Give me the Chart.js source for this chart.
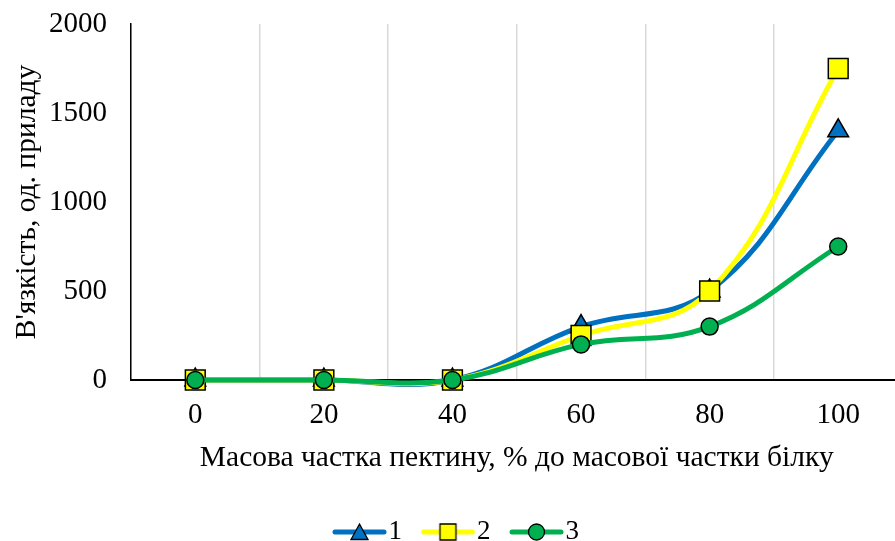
<!DOCTYPE html>
<html>
<head>
<meta charset="utf-8">
<script src="https://cdn.jsdelivr.net/npm/chart.js@4.4.1/dist/chart.umd.min.js"></script>
<style>
  html, body { margin: 0; padding: 0; background: #fff; overflow: hidden; }
  #wrap { width: 918px; height: 541px; }
  #c { width: 918px; height: 541px; display: block; }
</style>
</head>
<body>
<div id="wrap"><canvas id="c" width="918" height="541"></canvas></div>
<script>
const categories = ['0', '20', '40', '60', '80', '100'];
const series1 = [0, 0, 0, 300, 500, 1400];
const series2 = [0, 0, 0, 250, 500, 1750];
const series3 = [0, 0, 0, 200, 300, 750];
const seriesNames = ['1', '2', '3'];
const yTicks = [0, 500, 1000, 1500, 2000];
const xTitle = 'Масова частка пектину, % до масової частки білку';
const yTitle = "В'язкість, од. приладу";

const colors = ['#0070C0', '#FFFF00', '#00B050'];
const styles = ['triangle', 'rect', 'circle'];
const radii = [12, 14, 8.5];
const FONT = "'Times New Roman', 'Liberation Serif', serif";

function legendImage(i) {
  const c = document.createElement('canvas');
  c.width = 55; c.height = 24;
  const g = c.getContext('2d');
  g.strokeStyle = colors[i];
  g.lineWidth = 5;
  g.lineCap = 'round';
  g.beginPath(); g.moveTo(3, 12); g.lineTo(52, 12); g.stroke();
  g.fillStyle = colors[i];
  g.strokeStyle = '#000';
  g.lineWidth = 1.3;
  g.beginPath();
  if (styles[i] === 'triangle') {
    g.moveTo(27.5, 4); g.lineTo(36, 19.5); g.lineTo(19, 19.5); g.closePath();
  } else if (styles[i] === 'rect') {
    g.rect(19.5, 4, 16, 16);
  } else {
    g.arc(27.5, 12, 8, 0, Math.PI * 2);
  }
  g.fill(); g.stroke();
  return c;
}
const legendImgs = [0, 1, 2].map(legendImage);

const allSeries = [series1, series2, series3];
const datasets = allSeries.map((d, i) => ({
  label: seriesNames[i],
  data: d,
  borderColor: colors[i],
  backgroundColor: colors[i],
  borderWidth: 5,
  tension: 0.4,
  pointStyle: styles[i],
  pointRadius: radii[i],
  pointBackgroundColor: colors[i],
  pointBorderColor: '#000',
  pointBorderWidth: 1.5,
  clip: false,
  order: 3 - i
}));

const legendShift = {
  id: 'legendShift',
  afterLayout(chart) {
    if (chart.legend) { chart.legend.left += 2.5; chart.legend.right += 2.5; }
  }
};

new Chart(document.getElementById('c'), {
  type: 'line',
  data: { labels: categories, datasets },
  plugins: [legendShift],
  options: {
    responsive: false,
    animation: false,
    events: [],
    layout: { padding: { top: 24, left: 0, right: 0, bottom: -14.5 } },
    elements: { line: { capBezierPoints: false } },
    scales: {
      x: {
        type: 'category',
        offset: true,
        afterFit: (s) => { s.height = 108; s.paddingLeft = 0; s.paddingRight = 0; },
        grid: { offset: true, color: '#D9D9D9', lineWidth: 1.5, drawTicks: false },
        border: { display: true, color: '#000', width: 2 },
        ticks: { color: '#000', padding: 17.6, font: { family: FONT, size: 29 } },
        title: { display: true, text: xTitle, color: '#000', font: { family: FONT, size: 29.5 }, padding: { top: 0, bottom: 12.3 } }
      },
      y: {
        min: 0, max: 2000,
        afterBuildTicks: (s) => { s.ticks = yTicks.map(v => ({ value: v })); },
        afterFit: (s) => { s.width = 131; s.paddingTop = 0; s.paddingBottom = 0; },
        grid: { display: false, drawTicks: false },
        border: { display: true, color: '#000', width: 1.5 },
        ticks: { color: '#000', padding: 24, font: { family: FONT, size: 29 }, callback: (v) => String(v) },
        title: { display: true, text: yTitle, color: '#000', font: { family: FONT, size: 29.5 }, padding: { top: 10, bottom: 0 } }
      }
    },
    plugins: {
      tooltip: { enabled: false },
      legend: {
        position: 'bottom',
        labels: {
          color: '#000',
          font: { family: FONT, size: 27 },
          usePointStyle: true,
          pointStyleWidth: 31,
          padding: 30.5,
          sort: (a, b) => a.datasetIndex - b.datasetIndex,
          generateLabels: (chart) => {
            const items = Chart.defaults.plugins.legend.labels.generateLabels(chart);
            items.forEach(it => { it.pointStyle = legendImgs[it.datasetIndex]; });
            return items;
          }
        }
      }
    }
  }
});
</script>
</body>
</html>
